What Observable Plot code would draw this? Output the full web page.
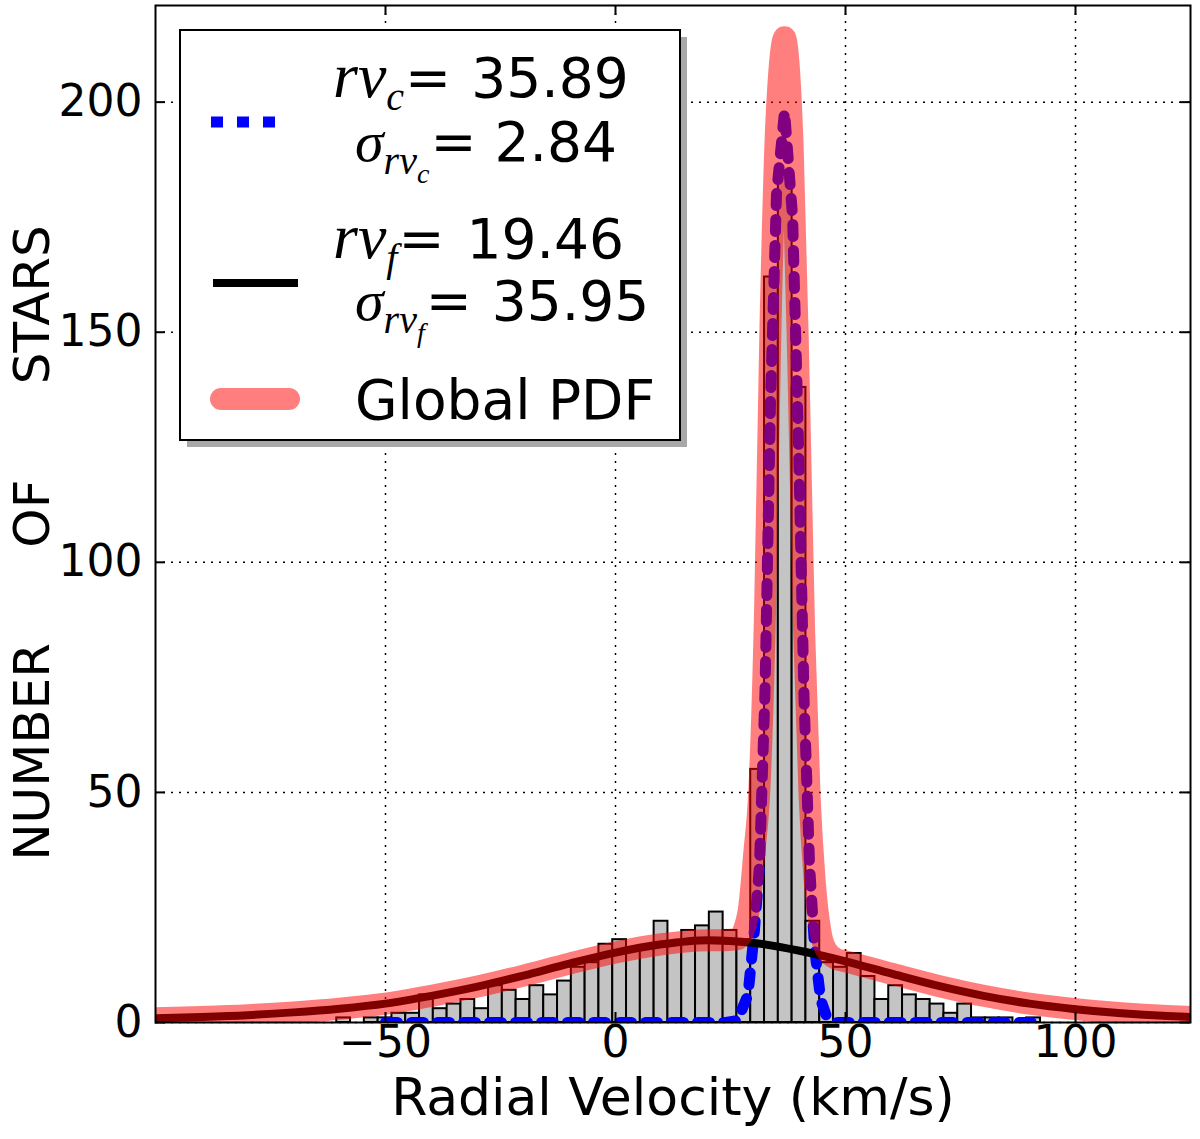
<!DOCTYPE html>
<html>
<head>
<meta charset="utf-8">
<script src="https://cdn.jsdelivr.net/npm/d3@7"></script>
<script src="https://cdn.jsdelivr.net/npm/@observablehq/plot@0.6"></script>
<style>
  body { margin: 0; background: white; }
  #chart { position: relative; width: 1200px; height: 1139px; }
</style>
</head>
<body>
<div id="chart"></div>
<script>
// histogram of radial velocities: left bin edges (km/s) and counts, bins 3 km/s wide
var binLo = [-60.6, -57.6, -54.6, -51.6, -48.6, -45.6, -42.6, -39.6, -36.6, -33.6,
  -30.6, -27.6, -24.6, -21.6, -18.6, -15.6, -12.6, -9.6, -6.6, -3.6,
  -0.6, 2.4, 5.4, 8.4, 11.4, 14.4, 17.4, 20.4, 23.4, 26.4,
  29.4, 32.4, 35.4, 38.4, 41.4, 44.4, 47.4, 50.4, 53.4, 56.4,
  59.4, 62.4, 65.4, 68.4, 71.4, 74.4, 77.4, 80.4, 83.4, 86.4, 89.4];
var binCount = [1, 0, 1, 1, 2, 2, 6, 3, 4, 5,
  3, 8, 7, 5, 8, 6, 9, 12, 13, 17,
  18, 16, 16, 22, 17, 20, 21, 24, 20, 18,
  55, 162, 185, 138, 22, 13, 12, 15, 10, 5,
  8, 6, 5, 4, 2, 4, 1, 1, 1, 0, 1];
var binWidth = 3;

// cluster gaussian (blue dotted)
var clusterX = [-50, 24, 26.5, 28.8, 30.2, 31.3, 32.5, 33.7, 35, 36.75, 38.5, 39.8, 41, 42.2, 43.3, 44.6, 45.8, 48, 93];
var clusterY = [0, 0, 0.4, 6, 20, 34, 72, 135, 180, 198, 175, 125, 70, 34, 16, 5, 1.5, 0, 0];

// field gaussian (black)
var fieldX = [-100, -90, -80, -70, -60, -50, -40, -30, -20, -10, 0, 10, 20, 30, 40, 50, 60, 70, 80, 90, 100, 110, 120, 125];
var fieldY = [0.9, 1.2, 1.6, 2.2, 3.0, 4.1, 5.8, 7.8, 10.2, 12.8, 15.2, 17.0, 17.9, 17.3, 15.6, 13.3, 10.6, 8.0, 5.8, 4.1, 2.9, 2.0, 1.4, 1.2];

// global PDF (red)
var globalX = [-100, -90, -80, -70, -60, -50, -40, -30, -20, -10, 0, 10, 20, 24, 26.5, 28.8, 30.2, 31.3, 32.5, 33.7, 35, 36.75,
  38.5, 39.8, 41, 42.2, 43.3, 44.6, 45.8, 48, 50, 60, 70, 80, 90, 100, 110, 120, 125];
var globalY = [0.9, 1.2, 1.6, 2.2, 3.0, 4.1, 5.8, 7.8, 10.2, 12.8, 15.2, 17.0, 17.9, 17.9, 18.1, 23.4, 37.2, 51, 88.8, 151.6, 196.4, 214.1,
  190.7, 140.5, 85.2, 49, 30.8, 19.5, 15.8, 13.8, 13.3, 10.6, 8.0, 5.8, 4.1, 2.9, 2.0, 1.4, 1.2];

var xTicks = [-50, 0, 50, 100];
var yTicks = [0, 50, 100, 150, 200];
var xLabel = "Radial Velocity (km/s)";
var gap = "\u00a0\u00a0\u00a0\u00a0\u00a0\u00a0";
var yLabel = "NUMBER" + gap + "OF" + gap + "STARS";

var bins = binLo.map((lo, i) => ({lo: lo, hi: lo + binWidth, n: binCount[i]}));
var cluster = clusterX.map((x, i) => ({x: x, y: clusterY[i]}));
var field = fieldX.map((x, i) => ({x: x, y: fieldY[i]}));
var global = globalX.map((x, i) => ({x: x, y: globalY[i]}));

var W = 1200, H = 1139, mL = 155, mR = 10, mT = 5, mB = 117;
var fw = W - mL - mR, fh = H - mT - mB;

var plot = Plot.plot({
  width: W,
  height: H,
  marginLeft: mL,
  marginRight: mR,
  marginTop: mT,
  marginBottom: mB,
  x: {domain: [-100, 125]},
  y: {domain: [0, 221]},
  style: {fontFamily: "DejaVu Sans", fontSize: "44px", background: "white", color: "black"},
  marks: [
    Plot.gridX(xTicks, {stroke: "black", strokeOpacity: 1, strokeWidth: 1.5, strokeDasharray: "2,6"}),
    Plot.gridY(yTicks, {stroke: "black", strokeOpacity: 1, strokeWidth: 1.5, strokeDasharray: "2,6"}),
    Plot.rectY(bins, {x1: "lo", x2: "hi", y: "n", fill: "#c4c4c4", stroke: "black", strokeWidth: 2}),
    Plot.line(cluster, {x: "x", y: "y", stroke: "#0000ff", strokeWidth: 11, strokeDasharray: "12,14", clip: true}),
    Plot.line(field, {x: "x", y: "y", stroke: "black", strokeWidth: 8, curve: "monotone-x", clip: true}),
    Plot.line(global, {x: "x", y: "y", stroke: "red", strokeOpacity: 0.5, strokeWidth: 22,
      strokeLinecap: "round", strokeLinejoin: "round", curve: "monotone-x", clip: true}),
    // inward ticks on all four sides
    Plot.tickX(xTicks, {x: (d) => d, insetTop: fh - 10, stroke: "black", strokeWidth: 2}),
    Plot.tickX(xTicks, {x: (d) => d, insetBottom: fh - 10, stroke: "black", strokeWidth: 2}),
    Plot.tickY(yTicks, {y: (d) => d, insetRight: fw - 10, stroke: "black", strokeWidth: 2}),
    Plot.tickY(yTicks, {y: (d) => d, insetLeft: fw - 10, stroke: "black", strokeWidth: 2}),
    Plot.axisX(xTicks, {tickSize: 0, tickPadding: 3, label: null}),
    Plot.axisY(yTicks, {tickSize: 0, tickPadding: 13, label: null}),
    Plot.frame({stroke: "black", strokeWidth: 2}),
    Plot.text([xLabel], {frameAnchor: "bottom", textAnchor: "middle", lineAnchor: "middle", dy: 76, fontSize: 52}),
    Plot.text([yLabel], {frameAnchor: "left", textAnchor: "middle", lineAnchor: "middle",
      rotate: -90, dx: -123, dy: 29, fontSize: 50})
  ]
});
document.getElementById("chart").append(plot);

// legend box (matplotlib style, with shadow)
var leg = d3.select("#chart").append("svg")
  .attr("width", 515).attr("height", 425)
  .style("position", "absolute").style("left", "179px").style("top", "29px");
leg.append("rect").attr("x", 8).attr("y", 8).attr("width", 500).attr("height", 410).attr("fill", "#a8a8a8");
leg.append("rect").attr("x", 1).attr("y", 1).attr("width", 500).attr("height", 410)
  .attr("fill", "white").attr("stroke", "black").attr("stroke-width", 2);

leg.append("line").attr("x1", 32).attr("x2", 106).attr("y1", 93).attr("y2", 93)
  .attr("stroke", "#0000ff").attr("stroke-width", 11).attr("stroke-dasharray", "12,14");
leg.append("line").attr("x1", 34).attr("x2", 119).attr("y1", 254).attr("y2", 254)
  .attr("stroke", "black").attr("stroke-width", 8);
leg.append("line").attr("x1", 42).attr("x2", 110).attr("y1", 370).attr("y2", 370)
  .attr("stroke", "red").attr("stroke-opacity", 0.5).attr("stroke-width", 22).attr("stroke-linecap", "round");

var serif = "Liberation Serif";
var sans = "DejaVu Sans";
var fs = 55;
function mathLine(x, y, sym, subs, val, symSize, valGap) {
  var t = leg.append("text").attr("x", x).attr("y", y).attr("font-size", fs).attr("fill", "black");
  t.append("tspan").attr("font-family", serif).attr("font-style", "italic").attr("font-size", symSize).text(sym);
  var shift = 0;
  subs.forEach(function (s, i) {
    var dy = i === 0 ? 13 : 9;
    shift += dy;
    t.append("tspan").attr("font-family", serif).attr("font-style", "italic")
      .attr("font-size", i === 0 ? 40 : 28).attr("dy", dy).text(s);
  });
  t.append("tspan").attr("font-family", sans).attr("dy", -shift).attr("dx", 1).text("=");
  t.append("tspan").attr("font-family", sans).attr("dx", valGap).text(val);
}
mathLine(154, 68, "rv", ["c"], "35.89", 64, 20);
mathLine(176, 132, "\u03c3", ["rv", "c"], "2.84", 58, 18);
mathLine(154, 229, "rv", ["f"], "19.46", 64, 22);
mathLine(176, 291, "\u03c3", ["rv", "f"], "35.95", 58, 20);
leg.append("text").attr("x", 176).attr("y", 390).attr("font-size", fs)
  .attr("font-family", sans).attr("fill", "black").text("Global PDF");
</script>
</body>
</html>
